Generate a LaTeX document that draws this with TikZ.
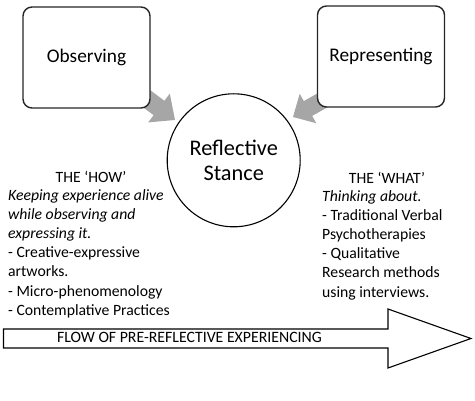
\documentclass[tikz,border=0pt]{standalone}
\usepackage{fontspec}
\setmainfont{Carlito}
\definecolor{arrowgray}{HTML}{A6A6A6}
\definecolor{boxline}{HTML}{262626}
\begin{document}
\begin{tikzpicture}[x=1pt,y=-1pt,
  box/.style={draw=boxline, line width=1.4pt, rounded corners=9pt, fill=white,
    minimum width=127pt, minimum height=101pt, inner sep=0pt,
    font=\fontsize{19.3}{23}\selectfont},
  stance/.style={circle, draw=black, line width=1.1pt, fill=white,
    minimum size=133pt, inner sep=0pt, align=center,
    font=\fontsize{22.3}{25.7}\selectfont},
  body/.style={inner sep=0pt, align=left, anchor=north west,
    font=\fontsize{15.7}{19.2}\selectfont},
  head/.style={inner sep=0pt, font=\fontsize{15.7}{19.2}\selectfont},
  blockarrow/.style={fill=arrowgray},
  flow/.style={draw=black, line width=1.1pt, fill=white}
]
\useasboundingbox (0,0) rectangle (475,401);
% grey block arrows (behind boxes)
\fill[blockarrow] (129.6,97.2) -- (153.6,115.2) -- (148.2,122.4) -- (175,120)
  -- (169.8,93.6) -- (164.4,100.8) -- (140.4,82.8) -- cycle;
\fill[blockarrow] (338.4,101.1) -- (312.2,115.9) -- (316.3,123.2) -- (293,117)
  -- (299.7,93.8) -- (303.8,101.1) -- (330,86.3) -- cycle;
% boxes
\node[box] (obs) at (86.5,57.5) {Observing};
\node[box] (rep) at (381,56.5) {Representing};
% circle
\node[stance] (rs) at (233.7,160.3) {Reflective\\Stance};
% left text
\node[head] (how) at (91,177) {THE ‘HOW’};
\node[body] (howtxt) at (8,189) {\textit{Keeping experience alive}\\
  \textit{while observing and}\\
  \textit{expressing it.}\\
  - Creative-expressive\\
  artworks.\\
  - Micro-phenomenology\\
  - Contemplative Practices};
% right text
\node[head] (what) at (387,178) {THE ‘WHAT’};
\node[body] (whattxt) at (322,190) {\textit{Thinking about.}\\
  - Traditional Verbal\\
  Psychotherapies\\
  - Qualitative\\
  Research methods\\
  using interviews.};
% flow arrow
\draw[flow] (3.5,329) coordinate (fa) -- (388,329) -- (388,309) -- (471,338.5)
  -- (388,368) -- (388,348) -- (3.5,348) -- cycle;
\node[inner sep=0pt, font=\fontsize{15.8}{18}\selectfont] (flowtxt) at (189.5,337.5)
  {FLOW OF PRE-REFLECTIVE EXPERIENCING};
\end{tikzpicture}
\end{document}
